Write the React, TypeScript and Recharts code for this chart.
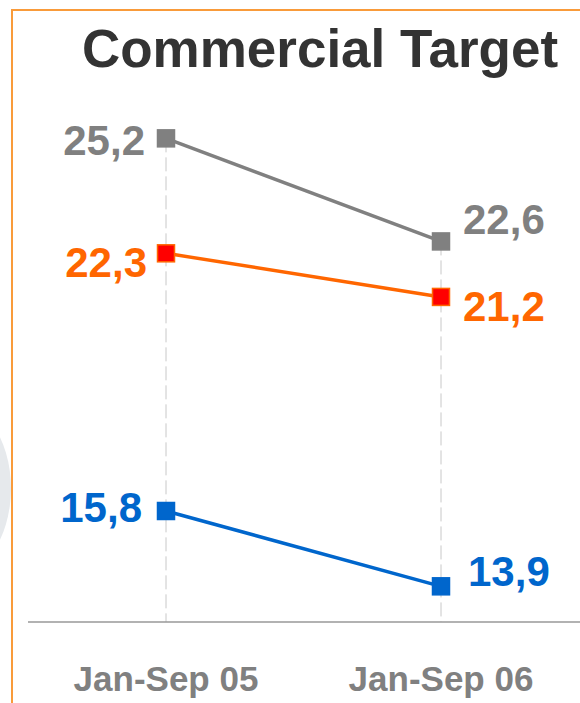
import React from "react";
import { LineChart, Line, XAxis, YAxis, ReferenceLine, LabelList } from "recharts";

const categories = ["Jan-Sep 05", "Jan-Sep 06"];
const grayValues = [25.2, 22.6];
const orangeValues = [22.3, 21.2];
const blueValues = [15.8, 13.9];
const yDomain: [number, number] = [13, 27];

const data = categories.map((period, i) => ({
  period,
  gray: grayValues[i],
  orange: orangeValues[i],
  blue: blueValues[i],
}));

const FONT = "'Liberation Sans', Arial, sans-serif";

// label placement relative to the point, per series and per category
const labelPos: Record<string, { dx: number; dy: number; anchor: string }[]> = {
  gray: [
    { dx: -21, dy: 17, anchor: "end" },
    { dx: 22, dy: -7, anchor: "start" },
  ],
  orange: [
    { dx: -19, dy: 24, anchor: "end" },
    { dx: 22, dy: 24, anchor: "start" },
  ],
  blue: [
    { dx: -24, dy: 11, anchor: "end" },
    { dx: 27, dy: 0, anchor: "start" },
  ],
};

const fmt = (v: number) => v.toFixed(1).replace(".", ",");

const makeLabel = (key: string, color: string) => (props: any) => {
  const { x, y, value, index } = props;
  const p = labelPos[key][index];
  return (
    <text
      x={x + p.dx}
      y={y + p.dy}
      textAnchor={p.anchor}
      fill={color}
      fontSize={42}
      fontWeight="bold"
      fontFamily={FONT}
    >
      {fmt(value)}
    </text>
  );
};

const makeDot = (fill: string, stroke: string) => (props: any) => {
  const { cx, cy, index } = props;
  return (
    <rect
      key={"d" + index}
      x={cx - 8.5}
      y={cy - 8.5}
      width={17}
      height={17}
      fill={fill}
      stroke={stroke}
      strokeWidth={1.5}
    />
  );
};

const PeriodTick = (props: any) => {
  const { x, y, payload } = props;
  return (
    <text
      x={x}
      y={y}
      dy={61}
      textAnchor="middle"
      fill="#808080"
      fontSize={35}
      fontWeight="bold"
      fontFamily={FONT}
    >
      {payload.value}
    </text>
  );
};

export default function App() {
  return (
    <div style={{ position: "absolute", left: 0, top: 0, width: 580, height: 703, overflow: "hidden", background: "#fff" }}>
      <div
        style={{
          position: "absolute",
          left: -120,
          top: 396,
          width: 131,
          height: 185,
          borderRadius: "50%",
          background: "#E6E9EC",
        }}
      />
      <div
        style={{
          position: "absolute",
          left: 11,
          top: 9,
          width: 600,
          height: 720,
          borderLeft: "2px solid #F99B3A",
          borderTop: "2px solid #F99B3A",
        }}
      />
      <div
        style={{
          position: "absolute",
          left: 20,
          top: 22,
          width: 600,
          textAlign: "center",
          fontFamily: FONT,
          fontWeight: "bold",
          fontSize: 53,
          lineHeight: "53px",
          color: "#333333",
        }}
      >
        Commercial Target
      </div>
      <div style={{ position: "absolute", left: 0, top: 0 }}>
        <LineChart width={580} height={703} data={data} margin={{ top: 67, right: 0, bottom: 21, left: 28 }}>
          <XAxis
            dataKey="period"
            height={60}
            padding={{ left: 138, right: 139 }}
            axisLine={{ stroke: "#999999", strokeWidth: 1.5 }}
            tickLine={false}
            tick={<PeriodTick />}
          />
          <YAxis hide domain={yDomain} />
          {categories.map((c, i) => (
            <ReferenceLine
              key={c}
              segment={[
                { x: c, y: Math.max(grayValues[i], orangeValues[i], blueValues[i]) },
                { x: c, y: yDomain[0] },
              ]}
              stroke="#C8C8C8"
              strokeDasharray="14 5"
              zIndex={-50}
            />
          ))}
          <Line
            dataKey="gray"
            stroke="#808080"
            strokeWidth={3.5}
            dot={makeDot("#808080", "#808080")}
            isAnimationActive={false}
          >
            <LabelList dataKey="gray" content={makeLabel("gray", "#808080")} />
          </Line>
          <Line
            dataKey="orange"
            stroke="#FF6600"
            strokeWidth={3.5}
            dot={makeDot("#FF0000", "#FF6600")}
            isAnimationActive={false}
          >
            <LabelList dataKey="orange" content={makeLabel("orange", "#FF6600")} />
          </Line>
          <Line
            dataKey="blue"
            stroke="#0066CC"
            strokeWidth={3.5}
            dot={makeDot("#0066CC", "#0066CC")}
            isAnimationActive={false}
          >
            <LabelList dataKey="blue" content={makeLabel("blue", "#0066CC")} />
          </Line>
        </LineChart>
      </div>
    </div>
  );
}
